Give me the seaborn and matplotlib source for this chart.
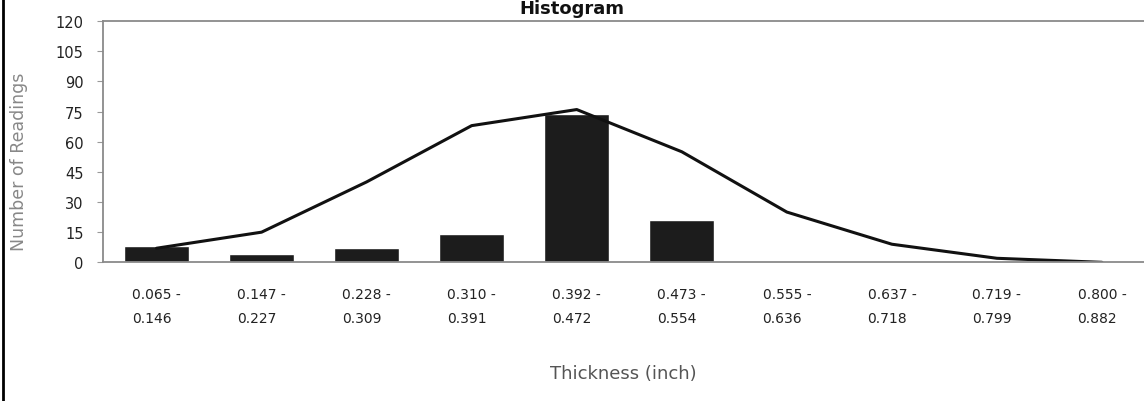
import numpy as np
import pandas as pd
import matplotlib
matplotlib.use("Agg")
import matplotlib.pyplot as plt
import seaborn as sns

# bins of thickness (inch)
bin_lo = ["0.065", "0.147", "0.228", "0.310", "0.392", "0.473", "0.555", "0.637", "0.719", "0.800"]
bin_hi = ["0.146", "0.227", "0.309", "0.391", "0.472", "0.554", "0.636", "0.718", "0.799", "0.882"]
readings = [8, 4, 7, 14, 74, 21, 0, 0, 0, 0]
normal_curve = [7, 15, 40, 68, 76, 55, 25, 9, 2, 0]

labels = [lo + " -\n" + hi for lo, hi in zip(bin_lo, bin_hi)]
df = pd.DataFrame({"bin": labels, "count": readings, "curve": normal_curve})

sns.set_style("white")
fig = plt.figure(figsize=(11.44, 4.02), dpi=100)
ax = fig.add_axes([0.09, 0.345, 0.91, 0.6])

sns.barplot(data=df, x="bin", y="count", color="#1c1c1c", width=0.62,
            saturation=1, ax=ax)
sns.lineplot(x=np.arange(len(df)), y=df["curve"], color="#111111", lw=2.2, ax=ax)

ax.set_ylim(0, 120)
ax.set_xlim(-0.51, 9.4)
ax.set_yticks(range(0, 121, 15))
ax.tick_params(axis="y", labelsize=10.5, labelcolor="#222222", length=4,
               color="#999999", left=True, pad=10)
ax.tick_params(axis="x", labelsize=10, labelcolor="#222222", length=0, pad=18)
for t in ax.get_xticklabels():
    t.set_multialignment("left")
    t.set_linespacing(1.9)

for s in ["top", "left", "bottom"]:
    ax.spines[s].set_color("#8a8a8a")
    ax.spines[s].set_linewidth(1.3)
ax.spines["right"].set_visible(False)

ax.set_xlabel("Thickness (inch)", fontsize=13, color="#555555")
ax.xaxis.set_label_coords(0.5, -0.42)
ax.set_ylabel("Number of Readings", fontsize=12.5, color="#888888")
ax.yaxis.set_label_coords(-0.072, 0.42)

fig.text(0.5, 0.999, "Histogram", ha="center", va="top",
         fontsize=13, fontweight="bold", color="#111111")
fig.add_artist(plt.Line2D([0.003, 0.003], [0, 1], transform=fig.transFigure,
                          color="black", lw=2))

fig.savefig("out.png", dpi=100)
